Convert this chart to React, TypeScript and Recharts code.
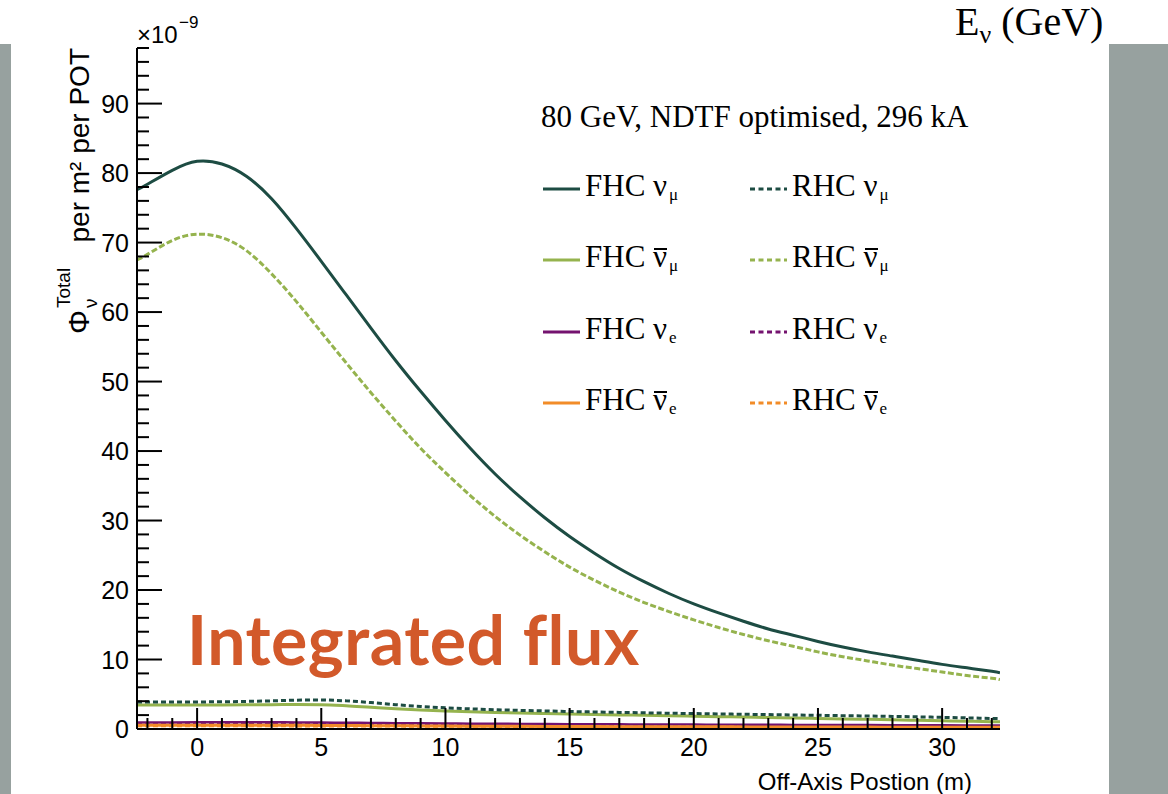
import React from 'react';
import { LineChart, Line, XAxis, YAxis } from 'recharts';

const xPos = [-2.42, -2, -1, 0, 1, 2, 3, 4, 5, 6, 7, 8, 9, 10, 11, 12, 13, 14, 15, 16, 17, 18, 19, 20, 21, 22, 23, 24, 25, 26, 27, 28, 29, 30, 31, 32, 32.33];

const fhcNumu = [77.6, 78.4, 80.4, 81.7, 81.3, 79.5, 76.3, 72.0, 67.3, 62.5, 57.7, 53.0, 48.6, 44.4, 40.4, 36.7, 33.4, 30.4, 27.7, 25.3, 23.1, 21.2, 19.5, 18.0, 16.7, 15.5, 14.4, 13.5, 12.6, 11.8, 11.1, 10.5, 9.9, 9.3, 8.8, 8.3, 8.1];
const rhcNumubar = [67.5, 68.3, 70.3, 71.2, 70.7, 68.8, 65.5, 61.5, 57.1, 52.7, 48.4, 44.3, 40.4, 36.9, 33.6, 30.6, 27.9, 25.5, 23.3, 21.4, 19.7, 18.2, 16.9, 15.7, 14.6, 13.6, 12.7, 11.9, 11.1, 10.4, 9.8, 9.2, 8.7, 8.2, 7.7, 7.3, 7.1];
const rhcNumu = [3.9, 3.9, 3.9, 3.9, 3.92, 3.97, 4.05, 4.15, 4.18, 4.05, 3.8, 3.5, 3.25, 3.05, 2.9, 2.78, 2.68, 2.6, 2.52, 2.45, 2.39, 2.33, 2.27, 2.22, 2.17, 2.12, 2.07, 2.02, 1.97, 1.92, 1.87, 1.81, 1.75, 1.68, 1.6, 1.52, 1.5];
const fhcNumubar = [3.45, 3.45, 3.45, 3.45, 3.46, 3.48, 3.5, 3.52, 3.5, 3.35, 3.12, 2.9, 2.72, 2.58, 2.47, 2.38, 2.3, 2.23, 2.16, 2.1, 2.03, 1.97, 1.9, 1.84, 1.78, 1.71, 1.65, 1.58, 1.52, 1.45, 1.39, 1.32, 1.26, 1.19, 1.12, 1.06, 1.04];
const fhcNue = [0.95, 0.95, 0.95, 0.96, 0.96, 0.96, 0.96, 0.95, 0.93, 0.9, 0.87, 0.84, 0.81, 0.79, 0.77, 0.75, 0.73, 0.71, 0.7, 0.68, 0.67, 0.65, 0.64, 0.63, 0.62, 0.61, 0.6, 0.59, 0.58, 0.57, 0.56, 0.55, 0.54, 0.53, 0.52, 0.51, 0.51];
const rhcNue = [0.78, 0.78, 0.79, 0.79, 0.79, 0.79, 0.78, 0.77, 0.75, 0.72, 0.69, 0.66, 0.63, 0.61, 0.59, 0.57, 0.55, 0.54, 0.52, 0.51, 0.5, 0.49, 0.48, 0.47, 0.46, 0.45, 0.44, 0.43, 0.42, 0.41, 0.4, 0.39, 0.39, 0.38, 0.37, 0.36, 0.36];
const fhcNuebar = [0.55, 0.55, 0.55, 0.55, 0.55, 0.55, 0.54, 0.53, 0.52, 0.5, 0.48, 0.46, 0.44, 0.42, 0.41, 0.4, 0.38, 0.37, 0.36, 0.35, 0.34, 0.33, 0.32, 0.31, 0.31, 0.3, 0.29, 0.29, 0.28, 0.27, 0.27, 0.26, 0.26, 0.25, 0.25, 0.24, 0.24];
const rhcNuebar = [0.42, 0.42, 0.42, 0.42, 0.42, 0.42, 0.42, 0.41, 0.41, 0.4, 0.39, 0.38, 0.37, 0.36, 0.35, 0.34, 0.33, 0.32, 0.31, 0.3, 0.3, 0.29, 0.28, 0.28, 0.27, 0.27, 0.26, 0.26, 0.25, 0.25, 0.24, 0.24, 0.23, 0.23, 0.22, 0.22, 0.22];

const xMajorTicks = [0, 5, 10, 15, 20, 25, 30];
const xAllTicks = [-2, -1, 0, 1, 2, 3, 4, 5, 6, 7, 8, 9, 10, 11, 12, 13, 14, 15, 16, 17, 18, 19, 20, 21, 22, 23, 24, 25, 26, 27, 28, 29, 30, 31, 32];
const yMajorTicks = [0, 10, 20, 30, 40, 50, 60, 70, 80, 90];
const yAllTicks = [0, 2, 4, 6, 8, 10, 12, 14, 16, 18, 20, 22, 24, 26, 28, 30, 32, 34, 36, 38, 40, 42, 44, 46, 48, 50, 52, 54, 56, 58, 60, 62, 64, 66, 68, 70, 72, 74, 76, 78, 80, 82, 84, 86, 88, 90, 92, 94, 96, 98];
const X_DOMAIN = [-2.42, 32.33];
const Y_DOMAIN = [0, 98];

const DARK = '#1d4c43';
const LIGHT = '#95b34e';
const PURPLE = '#74136f';
const ORANGE = '#f28c28';

const legendItems = [
  { col: 0, row: 0, color: DARK, dash: false, label: 'FHC', bar: false, sub: 'μ' },
  { col: 1, row: 0, color: DARK, dash: true, label: 'RHC', bar: false, sub: 'μ' },
  { col: 0, row: 1, color: LIGHT, dash: false, label: 'FHC', bar: true, sub: 'μ' },
  { col: 1, row: 1, color: LIGHT, dash: true, label: 'RHC', bar: true, sub: 'μ' },
  { col: 0, row: 2, color: PURPLE, dash: false, label: 'FHC', bar: false, sub: 'e' },
  { col: 1, row: 2, color: PURPLE, dash: true, label: 'RHC', bar: false, sub: 'e' },
  { col: 0, row: 3, color: ORANGE, dash: false, label: 'FHC', bar: true, sub: 'e' },
  { col: 1, row: 3, color: ORANGE, dash: true, label: 'RHC', bar: true, sub: 'e' },
];

const data = xPos.map((x, i) => ({
  x,
  fhcNumu: fhcNumu[i],
  rhcNumubar: rhcNumubar[i],
  rhcNumu: rhcNumu[i],
  fhcNumubar: fhcNumubar[i],
  fhcNue: fhcNue[i],
  rhcNue: rhcNue[i],
  fhcNuebar: fhcNuebar[i],
  rhcNuebar: rhcNuebar[i],
}));

const SANS = '"Liberation Sans", Arial, Helvetica, sans-serif';
const SERIF = '"Liberation Serif", "Times New Roman", serif';

const BottomTick = (p: any) => {
  const { x, y, payload } = p;
  const major = xMajorTicks.includes(payload.value);
  return (
    <g>
      <line x1={x} y1={y} x2={x} y2={y - (major ? 21 : 11)} stroke="#000" strokeWidth={2} />
      {major && (
        <text x={x} y={y + 27} textAnchor="middle" fontSize={25} fontFamily={SANS} fill="#000">
          {payload.value}
        </text>
      )}
    </g>
  );
};

const TopTick = (p: any) => {
  const { x, y, payload } = p;
  const major = xMajorTicks.includes(payload.value);
  return <line x1={x} y1={y} x2={x} y2={y + (major ? 20 : 9)} stroke="#000" strokeWidth={2} />;
};

const LeftTick = (p: any) => {
  const { x, y, payload } = p;
  const major = yMajorTicks.includes(payload.value);
  return (
    <g>
      <line x1={x} y1={y} x2={x + (major ? 25 : 12)} y2={y} stroke="#000" strokeWidth={2} />
      {major && (
        <text x={x - 8} y={y + 9} textAnchor="end" fontSize={25} fontFamily={SANS} fill="#000">
          {payload.value}
        </text>
      )}
    </g>
  );
};

const RightTick = (p: any) => {
  const { x, y, payload } = p;
  const major = yMajorTicks.includes(payload.value);
  return <line x1={x} y1={y} x2={x - (major ? 25 : 12)} y2={y} stroke="#000" strokeWidth={2} />;
};

const Legend8 = () => (
  <div style={{ position: 'absolute', left: 0, top: 0, fontFamily: SERIF, fontSize: 31, color: '#000' }}>
    {legendItems.map((it, i) => {
      const left = it.col === 0 ? 543 : 750;
      const baseline = 196 + it.row * 71.3;
      return (
        <div key={i} style={{ position: 'absolute', left, top: baseline - 26, height: 31, lineHeight: '31px', display: 'flex', whiteSpace: 'nowrap' }}>
          <svg width={37} height={31} style={{ marginRight: 5 }}>
            <line x1={0} y1={19} x2={37} y2={19} stroke={it.color} strokeWidth={3} strokeDasharray={it.dash ? '5 3.5' : undefined} />
          </svg>
          <span>{it.label}&nbsp;</span>
          <span style={{ position: 'relative', display: 'inline-block', lineHeight: '31px' }}>
            ν
            {it.bar && <span style={{ position: 'absolute', left: 1, right: 0, top: 7, borderTop: '2px solid #000' }} />}
          </span>
          <span style={{ fontSize: 17, position: 'relative', top: 9, marginLeft: 2 }}>{it.sub}</span>
        </div>
      );
    })}
  </div>
);

export default function App() {
  return (
    <div style={{ position: 'absolute', left: 0, top: 0, width: 1168, height: 794, background: '#fff', overflow: 'hidden' }}>
      <div style={{ position: 'absolute', left: 0, top: 44, width: 11, height: 750, background: '#97a19f' }} />
      <div style={{ position: 'absolute', left: 1109, top: 44, width: 59, height: 750, background: '#97a19f' }} />
      <div style={{ position: 'absolute', left: 0, top: 0 }}>
        <LineChart width={1168} height={794} data={data} margin={{ top: 48, right: 168, bottom: 0, left: 0 }}>
          <XAxis
            dataKey="x"
            type="number"
            domain={X_DOMAIN}
            allowDataOverflow
            ticks={xAllTicks}
            interval={0}
            tickSize={0}
            tickMargin={0}
            height={65}
            tickLine={false}
            axisLine={{ stroke: '#000', strokeWidth: 2 }}
            tick={(p: any) => <BottomTick {...p} />}
          />
          <XAxis
            xAxisId="top"
            orientation="top"
            dataKey="x"
            type="number"
            domain={X_DOMAIN}
            allowDataOverflow
            ticks={xAllTicks}
            interval={0}
            tickSize={0}
            tickMargin={0}
            height={0}
            tickLine={false}
            axisLine={{ stroke: '#000', strokeWidth: 2 }}
            tick={(p: any) => <TopTick {...p} />}
          />
          <YAxis
            type="number"
            domain={Y_DOMAIN}
            allowDataOverflow
            ticks={yAllTicks}
            interval={0}
            tickSize={0}
            tickMargin={0}
            width={137}
            tickLine={false}
            axisLine={{ stroke: '#000', strokeWidth: 2 }}
            tick={(p: any) => <LeftTick {...p} />}
          />
          <YAxis
            yAxisId="right"
            orientation="right"
            type="number"
            domain={Y_DOMAIN}
            allowDataOverflow
            ticks={yAllTicks}
            interval={0}
            tickSize={0}
            tickMargin={0}
            width={0}
            tickLine={false}
            axisLine={{ stroke: '#000', strokeWidth: 2 }}
            tick={(p: any) => <RightTick {...p} />}
          />
          <Line type="monotone" dataKey="fhcNue" stroke={PURPLE} strokeWidth={2.5} dot={false} isAnimationActive={false} />
          <Line type="monotone" dataKey="rhcNue" stroke={PURPLE} strokeWidth={2.5} strokeDasharray="5 3" dot={false} isAnimationActive={false} />
          <Line type="monotone" dataKey="fhcNuebar" stroke={ORANGE} strokeWidth={3} dot={false} isAnimationActive={false} />
          <Line type="monotone" dataKey="rhcNuebar" stroke={ORANGE} strokeWidth={2.5} strokeDasharray="5 3" dot={false} isAnimationActive={false} />
          <Line type="monotone" dataKey="fhcNumubar" stroke={LIGHT} strokeWidth={3} dot={false} isAnimationActive={false} />
          <Line type="monotone" dataKey="rhcNumu" stroke={DARK} strokeWidth={3} strokeDasharray="5 3" dot={false} isAnimationActive={false} />
          <Line type="natural" dataKey="rhcNumubar" stroke={LIGHT} strokeWidth={3} strokeDasharray="6 2.5" dot={false} isAnimationActive={false} />
          <Line type="natural" dataKey="fhcNumu" stroke={DARK} strokeWidth={3} dot={false} isAnimationActive={false} />
        </LineChart>
      </div>
      <svg width={1168} height={794} style={{ position: 'absolute', left: 0, top: 0, pointerEvents: 'none' }}>
        <text x={137} y={43} fontFamily={SANS} fontSize={24} fill="#000">×10</text>
        <text x={179} y={28} fontFamily={SANS} fontSize={17} fill="#000">−9</text>
        <g transform="translate(89,334) rotate(-90)">
          <text x={0} y={0} fontFamily={SANS} fontSize={30} fill="#000">Φ</text>
          <text x={26} y={-19} fontFamily={SANS} fontSize={19} fill="#000">Total</text>
          <text x={26} y={8} fontFamily={SANS} fontSize={19} fill="#000">ν</text>
          <text x={286} y={0} textAnchor="end" fontFamily={SANS} fontSize={28} fill="#000">per m² per POT</text>
        </g>
        <text x={541} y={127} fontFamily={SERIF} fontSize={31} fill="#000">80 GeV, NDTF optimised, 296 kA</text>
        <text x={955} y={35} fontFamily={SERIF} fontSize={40} fill="#000">
          E<tspan fontSize={26} dy={8}>ν</tspan><tspan dy={-8}> (GeV)</tspan>
        </text>
        <text x={972} y={790} textAnchor="end" fontFamily={SANS} fontSize={24} fill="#000">Off-Axis Postion (m)</text>
        <text x={187} y={665} fontFamily="Lato, sans-serif" fontWeight={700} fontSize={68} letterSpacing={0.5} fill="#d2592a">Integrated flux</text>
      </svg>
      <Legend8 />
    </div>
  );
}
